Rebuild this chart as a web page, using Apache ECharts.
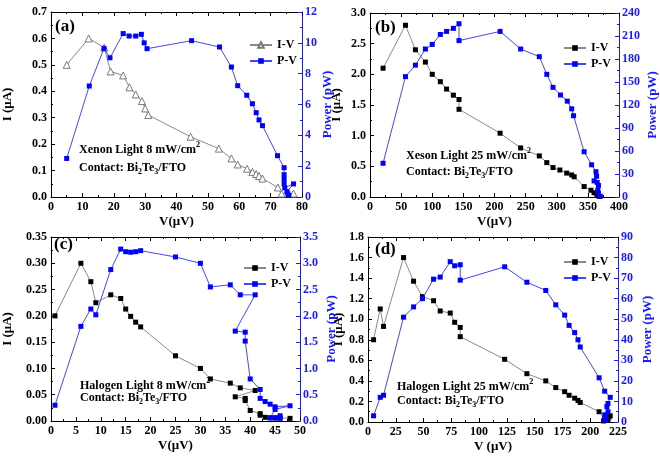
<!DOCTYPE html>
<html><head><meta charset="utf-8">
<script src="https://cdn.jsdelivr.net/npm/echarts@6/dist/echarts.min.js"></script>
<style>html,body{margin:0;padding:0;background:#fff}#c{width:660px;height:459px}</style>
</head><body><div id="c"></div>
<script>
// ---- Panel (a): Xenon 8 mW/cm2 ----
const aIV_V = [5,12,17,19,23,25,27,29,30,31,44.5,53.5,57.5,59.5,62.5,64.2,65.4,66.3,67.4,72.3,73.5,77.3];
const aIV_I = [0.50,0.60,0.565,0.475,0.46,0.415,0.388,0.363,0.335,0.31,0.228,0.183,0.146,0.123,0.107,0.095,0.087,0.079,0.070,0.036,0.013,0.013];
const aPV_V = [5,12.2,16.9,18.8,23,24.9,27,28.8,29.7,30.6,44.8,53.7,57.5,59.5,62.4,64.2,65.4,66.3,67.4,72.2,74.3,74.3,74.3,74.3,74.5,77.3,75.2,75.5,75.8];
const aPV_P = [2.5,7.2,9.64,9.03,10.6,10.44,10.44,10.55,10.0,9.62,10.14,9.73,8.43,7.22,6.6,6.05,5.47,5.0,4.63,2.68,1.9,1.45,1.15,0.85,0.6,0.85,0.35,0.2,0.1];
// ---- Panel (b): Xenon 25 mW/cm2 ----
const bIV_V = [21,57,73,89,100,113,123,134,143,143,209,242,272,284,294,305,316,324,328,344,355,360,364,366,368];
const bIV_I = [2.1,2.8,2.4,2.2,2.0,1.88,1.76,1.66,1.59,1.43,1.04,0.80,0.67,0.56,0.48,0.44,0.39,0.36,0.33,0.17,0.11,0.07,0.05,0.03,0.01];
const bPV_V = [21,57,73,89,100,113,123,134,143,143,209,242,272,284,294,306,317,324,327,344,356,363,364,360,365,367,366,367,370];
const bPV_P = [44,157,172,193,199,212,216,220,226,204,216,193,183,160,143,133,125,115,106,59,42,33,27,21,19,15,9,5,1];
// ---- Panel (c): Halogen 8 mW/cm2 ----
const cIV_V = [0.8,6,8,9,12,14,15,16,17,18,25,30,32,36,38,41,37,39,39,40,42,42,43,44,45,46,48];
const cIV_I = [0.2,0.30,0.265,0.225,0.24,0.233,0.213,0.199,0.188,0.179,0.124,0.10,0.08,0.072,0.063,0.058,0.046,0.043,0.039,0.02,0.014,0.011,0.007,0.006,0.006,0.006,0.005];
const cPV_V = [0.8,6,8,9,12,14,15,16,17,18,25,30,32,36,38,41,37,39,39,40,42,42,43,44,45,48,45,44,45,46,46];
const cPV_P = [0.3,1.8,2.13,2.02,2.88,3.27,3.22,3.21,3.22,3.24,3.12,3.0,2.55,2.59,2.4,2.4,1.71,1.69,1.52,0.8,0.6,0.43,0.37,0.32,0.27,0.29,0.22,0.06,0.06,0.1,0.05];
// ---- Panel (d): Halogen 25 mW/cm2 ----
const dIV_V = [5,11,14,32,41,49,59,65,74,78,83,83,123,143,160,169,177,181,186,189,191,208,213,212,214,215,216,217,218];
const dIV_I = [0.8,1.1,0.93,1.6,1.37,1.22,1.18,1.08,1.06,0.97,0.92,0.83,0.61,0.47,0.40,0.335,0.295,0.26,0.232,0.21,0.19,0.10,0.03,0.01,0.02,0.04,0.02,0.05,0.06];
const dPV_V = [5,11,14,32,41,49,59,65,74,78,83,83,123,143,160,169,177,181,186,189,191,208,213,218,216,215,216,213,214,213,214];
const dPV_P = [3,12,13,51,56,60,69.5,70.5,78,76,76.5,69,75.5,68,64,57,52,47,43.5,40,36.5,21.5,15,12,9,7.5,5,3.5,2.5,1.5,1];

const F = 'Liberation Serif';
const BLUE = '#1a1aff';
const zip = (a,b) => a.map((v,i)=>[v,b[i]]);

const panels = [
  {grid:{left:50,top:12,width:252,height:185}, x:[0,80,10], yl:[0,0.7,0.1,1], yr:[0,12,2,0], xname:'V(μV)',
   gl:37, gr:16, iv:zip(aIV_V,aIV_I), pv:zip(aPV_V,aPV_P), tri:true, leg:{left:244,top:34}},
  {grid:{left:370,top:13,width:249,height:184}, x:[0,400,50], yl:[0,3,0.5,1], yr:[0,240,30,0], xname:'V(μV)',
   gl:27, gr:27, iv:zip(bIV_V,bIV_I), pv:zip(bPV_V,bPV_P), leg:{left:558,top:37}},
  {grid:{left:50,top:237,width:250,height:184}, x:[0,50,5], yl:[0,0.35,0.05,2], yr:[0,3.5,0.5,1], xname:'V(μV)',
   gl:37, gr:25, iv:zip(cIV_V,cIV_I), pv:zip(cPV_V,cPV_P), leg:{left:238,top:257}},
  {grid:{left:368,top:237,width:250,height:185}, x:[0,225,25], yl:[0,1.8,0.2,1], yr:[0,90,10,0], xname:'V (μV)',
   gl:22, gr:23, iv:zip(dIV_V,dIV_I), pv:zip(dPV_V,dPV_P), leg:{left:558,top:251}}
];

const lbl = (color) => ({fontFamily:F, fontWeight:'bold', fontSize:12, color});
const grid=[], xAxis=[], yAxis=[], series=[], legend=[];
panels.forEach((p,i)=>{
  grid.push(p.grid);
  const xb = {gridIndex:i, type:'value', min:p.x[0], max:p.x[1], interval:p.x[2],
    axisLine:{show:true,onZero:false,lineStyle:{color:'#000',width:1}},
    axisTick:{inside:true,length:4,lineStyle:{color:'#000'}},
    minorTick:{show:true,splitNumber:2,length:2,lineStyle:{color:'#000'}},
    splitLine:{show:false}};
  xAxis.push(Object.assign({}, xb, {position:'bottom', axisLabel:Object.assign(lbl('#000'),{margin:4}),
    name:p.xname, nameLocation:'middle', nameGap:18, nameTextStyle:Object.assign(lbl('#000'),{fontSize:13})}));
  xAxis.push(Object.assign({}, xb, {position:'top', axisLabel:{show:false}}));
  yAxis.push({gridIndex:i, type:'value', position:'left', min:p.yl[0], max:p.yl[1], interval:p.yl[2],
    axisLine:{show:true,onZero:false,lineStyle:{color:'#000'}},
    axisTick:{inside:true,length:4,lineStyle:{color:'#000'}},
    minorTick:{show:true,splitNumber:2,length:2,lineStyle:{color:'#000'}},
    splitLine:{show:false},
    axisLabel:Object.assign(lbl('#000'),{margin:4, formatter:v=>v.toFixed(p.yl[3])}),
    name:'I (μA)', nameLocation:'middle', nameGap:p.gl, nameTextStyle:Object.assign(lbl('#000'),{fontSize:13})});
  yAxis.push({gridIndex:i, type:'value', position:'right', min:p.yr[0], max:p.yr[1], interval:p.yr[2],
    axisLine:{show:true,onZero:false,lineStyle:{color:BLUE}},
    axisTick:{inside:true,length:4,lineStyle:{color:BLUE}},
    minorTick:{show:true,splitNumber:2,length:2,lineStyle:{color:BLUE}},
    splitLine:{show:false},
    axisLabel:Object.assign(lbl(BLUE),{margin:3, formatter:v=>v.toFixed(p.yr[3])}),
    name:'Power (pW)', nameLocation:'middle', nameGap:p.gr, nameTextStyle:Object.assign(lbl(BLUE),{fontSize:13})});
  const ivName = 'p'+i+':I-V', pvName = 'p'+i+':P-V';
  series.push({name:ivName, type:'line', xAxisIndex:2*i, yAxisIndex:2*i, data:p.iv,
    symbol: p.tri ? 'triangle' : 'rect', symbolSize: p.tri ? 7 : 5,
    lineStyle:{color:'#8a8a8a',width:1},
    itemStyle: p.tri ? {color:'#fff', borderColor:'#7a7a7a', borderWidth:1} : {color:'#000', borderWidth:0},
    animation:false, z:2});
  series.push({name:pvName, type:'line', xAxisIndex:2*i, yAxisIndex:2*i+1, data:p.pv,
    symbol:'rect', symbolSize:5, lineStyle:{color:'#4646f0',width:1},
    itemStyle:{color:'#0000ff', borderWidth:0}, animation:false, z:3});
  legend.push({data:[ivName,pvName], left:p.leg.left, top:p.leg.top, orient:'vertical', itemGap:4,
    itemWidth:22, itemHeight:7, formatter:n=>n.split(':')[1], selectedMode:false,
    textStyle:Object.assign(lbl('#000'),{fontSize:12})});
});

const rn = {fontFamily:F, fontWeight:'bold', fontSize:12, color:'#000', lineHeight:15, verticalAlign:'bottom'};
const rsup = {fontFamily:F, fontWeight:'bold', fontSize:8, color:'#000', lineHeight:15, verticalAlign:'top'};
const rsub = {fontFamily:F, fontWeight:'bold', fontSize:8, color:'#000', lineHeight:15, verticalAlign:'bottom', padding:[0,0,-2,0]};
const rich = {n:rn, sup:rsup, sub:rsub};
function note(left, top, txt){ return {type:'text', left, top, silent:true, style:{text:txt, rich}}; }
function tag(left, top, t){ return {type:'text', left, top, silent:true, style:{text:t, font:'bold 17px "Liberation Serif"', fill:'#000'}}; }
const contact = '{n|Contact: Bi}{sub|2}{n|Te}{sub|3}{n|/FTO}';
const graphic = [
  tag(55,18,'(a)'), tag(375,19,'(b)'), tag(54,236,'(c)'), tag(375,241,'(d)'),
  note(79,141,'{n|Xenon Light 8 mW/cm}{sup|2}'), note(79,162,contact),
  note(406,147,'{n|Xeson Light 25 mW/cm}{sup|2}'), note(406,166,contact),
  note(80,377,'{n|Halogen Light 8 mW/cm}{sup|2}'), note(80,392,contact),
  note(397,378,'{n|Halogen Light 25 mW/cm}{sup|2}'), note(397,395,contact)
];

const chart = echarts.init(document.getElementById('c'), null, {renderer:'canvas'});
chart.setOption({backgroundColor:'#fff', animation:false, grid, xAxis, yAxis, series, legend, graphic});
</script></body></html>
